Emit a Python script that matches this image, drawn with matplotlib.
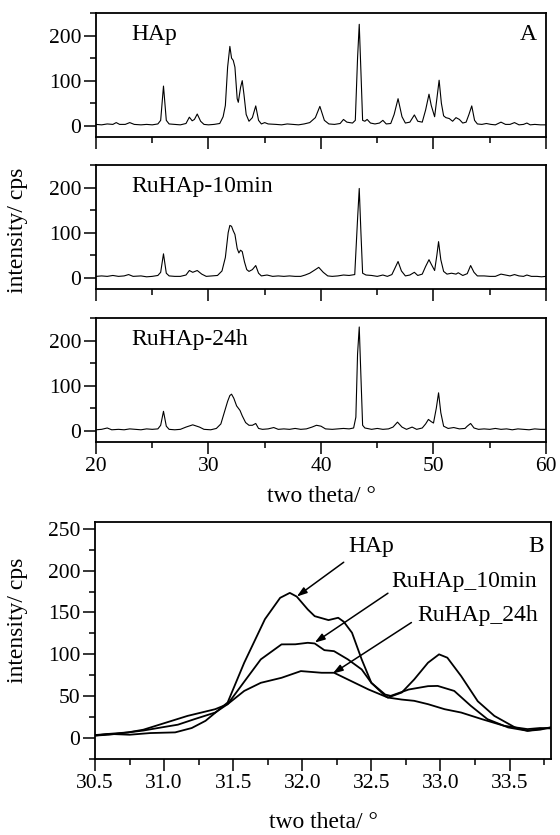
import matplotlib
matplotlib.use("Agg")
import matplotlib.pyplot as plt
from matplotlib.ticker import MultipleLocator

plt.rcParams["font.family"] = ["Liberation Serif", "DejaVu Serif"]

# ── Panel A: full XRD patterns, 20-60 deg ───────────────────────────────────
HAP_2T = [20.0, 20.5, 21.0, 21.5, 21.8, 22.1, 22.6, 23.0, 23.4, 24.0, 24.5, 25.0,
          25.5, 25.75, 26.0, 26.25, 26.5, 27.0, 27.5, 28.0, 28.3, 28.55, 28.75,
          29.0, 29.3, 29.6, 30.0, 30.5, 31.0, 31.3, 31.5, 31.7, 31.9, 32.05, 32.2,
          32.35, 32.55, 32.65, 32.85, 33.0, 33.15, 33.35, 33.6, 33.9, 34.2, 34.45,
          34.7, 35.0, 35.3, 36.0, 36.5, 37.0, 37.5, 38.0, 38.5, 39.0, 39.5, 39.9,
          40.3, 40.7, 41.2, 41.7, 42.0, 42.3, 42.8, 43.05, 43.25, 43.4, 43.55,
          43.7, 43.9, 44.1, 44.4, 44.8, 45.2, 45.5, 45.8, 46.2, 46.5, 46.85, 47.2,
          47.5, 47.9, 48.3, 48.6, 49.0, 49.3, 49.6, 49.8, 50.1, 50.3, 50.5, 50.7,
          50.9, 51.1, 51.4, 51.7, 52.0, 52.3, 52.6, 52.9, 53.15, 53.4, 53.65, 53.9,
          54.3, 54.7, 55.1, 55.5, 56.0, 56.4, 56.8, 57.2, 57.6, 58.0, 58.3, 58.6,
          59.0, 59.5, 60.0]
HAP_CPS = [3, 2, 4, 3, 7, 3, 3, 7, 3, 2, 3, 2,
           4, 12, 88, 12, 4, 3, 2, 5, 19, 11, 14,
           26, 10, 3, 2, 3, 5, 20, 45, 130, 176, 150, 145,
           130, 60, 52, 85, 100, 70, 25, 10, 18, 44, 12,
           4, 7, 4, 3, 2, 4, 3, 2, 4, 7, 18, 43,
           12, 4, 3, 5, 14, 8, 6, 12, 150, 225, 120,
           12, 10, 14, 6, 4, 6, 12, 4, 5, 25, 60, 20,
           6, 8, 24, 10, 8, 35, 70, 45, 20, 60, 101, 50,
           22, 18, 16, 10, 18, 14, 6, 8, 25, 44, 12, 4,
           3, 5, 3, 2, 8, 3, 3, 7, 2, 3, 6, 2,
           3, 2, 2]

RU10_2T = [20.0, 20.5, 21.0, 21.5, 22.0, 22.5, 22.9, 23.3, 24.0, 24.5, 25.0, 25.5,
           25.75, 26.0, 26.25, 26.5, 27.0, 27.5, 28.0, 28.3, 28.6, 29.0, 29.4,
           29.8, 30.3, 30.8, 31.2, 31.5, 31.75, 31.9, 32.05, 32.2, 32.35, 32.55,
           32.7, 32.85, 33.0, 33.2, 33.4, 33.6, 33.9, 34.2, 34.45, 34.7, 35.2,
           35.7, 36.2, 36.7, 37.2, 37.7, 38.2, 38.6, 39.0, 39.5, 39.8, 40.2, 40.6,
           41.0, 41.5, 42.0, 42.5, 43.0, 43.25, 43.4, 43.55, 43.7, 44.0, 44.5,
           45.0, 45.5, 45.9, 46.3, 46.55, 46.85, 47.15, 47.5, 47.9, 48.3, 48.6,
           49.0, 49.3, 49.6, 49.8, 50.1, 50.3, 50.45, 50.65, 50.9, 51.2, 51.6,
           52.0, 52.2, 52.6, 53.0, 53.3, 53.6, 53.9, 54.5, 55.0, 55.5, 56.0, 56.4,
           56.8, 57.2, 57.6, 58.0, 58.3, 58.7, 59.2, 59.6, 60.0]
RU10_CPS = [3, 4, 3, 5, 3, 4, 7, 3, 4, 2, 3, 5,
            12, 53, 10, 4, 3, 3, 6, 16, 12, 16, 8,
            3, 4, 5, 15, 45, 100, 116, 114, 104, 96, 65,
            55, 61, 58, 35, 18, 14, 18, 27, 10, 4, 6,
            3, 4, 3, 4, 3, 3, 6, 10, 18, 23, 12, 4,
            3, 4, 6, 5, 7, 130, 198, 100, 10, 6, 5,
            3, 6, 3, 7, 20, 36, 15, 4, 6, 12, 5,
            8, 25, 40, 30, 16, 50, 80, 40, 14, 8, 10,
            8, 11, 5, 9, 27, 12, 4, 4, 3, 3, 8, 6,
            4, 7, 4, 3, 6, 3, 3, 2, 3]

RU24_2T = [20.0, 20.5, 21.0, 21.4, 22.0, 22.5, 23.0, 23.5, 24.0, 24.5, 25.0, 25.5,
           25.75, 26.0, 26.25, 26.5, 27.0, 27.5, 28.0, 28.6, 29.2, 29.6, 30.2,
           30.7, 31.1, 31.4, 31.7, 31.9, 32.05, 32.25, 32.5, 32.8, 33.0, 33.3,
           33.6, 33.9, 34.2, 34.45, 34.8, 35.3, 35.8, 36.2, 36.7, 37.2, 37.7,
           38.2, 38.7, 39.2, 39.6, 40.0, 40.4, 41.0, 41.5, 42.0, 42.5, 42.9, 43.1,
           43.25, 43.4, 43.55, 43.7, 43.9, 44.5, 45.0, 45.5, 46.0, 46.4, 46.8,
           47.2, 47.6, 48.1, 48.5, 49.0, 49.3, 49.55, 49.8, 50.0, 50.25, 50.45,
           50.65, 50.9, 51.3, 51.8, 52.3, 52.8, 53.0, 53.3, 53.6, 54.0, 54.5,
           55.0, 55.5, 56.0, 56.5, 57.0, 57.5, 58.0, 58.5, 59.0, 59.5, 60.0]
RU24_CPS = [2, 3, 6, 2, 3, 2, 4, 3, 2, 4, 3, 4,
            12, 43, 10, 3, 2, 3, 8, 13, 8, 3, 2,
            5, 15, 40, 65, 78, 81, 72, 55, 45, 33, 18,
            12, 12, 16, 5, 3, 4, 7, 3, 4, 3, 5,
            3, 4, 8, 12, 10, 4, 3, 4, 5, 4, 6, 30,
            170, 230, 120, 12, 6, 3, 5, 3, 4, 8, 19,
            8, 3, 8, 3, 6, 15, 25, 20, 17, 50, 84,
            40, 10, 5, 7, 4, 5, 10, 16, 6, 3, 4,
            3, 5, 3, 4, 2, 4, 3, 2, 4, 3, 3]

A_SERIES = [("HAp", HAP_2T, HAP_CPS),
            ("RuHAp-10min", RU10_2T, RU10_CPS),
            ("RuHAp-24h", RU24_2T, RU24_CPS)]

# ── Panel B: zoom on the 31-33 deg region ───────────────────────────────────
B_HAP_2T = [30.5, 30.6, 30.75, 30.9, 31.08, 31.2, 31.3, 31.46, 31.58, 31.73,
            31.84, 31.91, 31.96, 32.04, 32.09, 32.19, 32.26, 32.3, 32.36, 32.43,
            32.5, 32.6, 32.62, 32.72, 32.81, 32.91, 32.99, 33.05, 33.15, 33.27,
            33.39, 33.54, 33.63, 33.72, 33.8]
B_HAP_CPS = [3.6, 5, 4, 6, 6.8, 12, 20.6, 42.5, 90, 142,
             167.5, 173.4, 169, 153.6, 145.6, 140.9, 143.7, 139, 125.8, 94,
             66, 50.4, 48.4, 54.4, 70, 90, 100, 96, 74, 44,
             26.5, 12.7, 8.7, 11, 12.7]

B_RU10_2T = [30.5, 30.6, 30.74, 30.85, 30.98, 31.1, 31.22, 31.37, 31.46, 31.61,
             31.7, 31.85, 31.95, 32.04, 32.09, 32.16, 32.23, 32.33, 32.43, 32.5,
             32.6, 32.64, 32.77, 32.91, 32.98, 33.1, 33.22, 33.34, 33.49, 33.63,
             33.72, 33.8]
B_RU10_CPS = [3, 5, 6.8, 9, 12.7, 16, 22.6, 30.5, 40.5, 74,
              94, 111.9, 112, 113.8, 113, 105, 103.8, 94, 82, 66,
              52, 50.4, 58, 62, 62.3, 56.3, 38.5, 22.6, 12.7, 8.7,
              10, 12.7]

B_RU24_2T = [30.5, 30.6, 30.74, 30.85, 30.98, 31.17, 31.37, 31.46, 31.58, 31.7,
             31.85, 31.99, 32.14, 32.23, 32.33, 32.48, 32.62, 32.72, 32.81, 32.91,
             33.03, 33.15, 33.3, 33.46, 33.63, 33.72, 33.8]
B_RU24_CPS = [3, 4, 6.8, 10, 16.7, 26.5, 34.5, 40.5, 56.3, 66,
              72, 80, 78, 78, 70, 58, 48.4, 46, 44.5, 40.5,
              34.5, 30.5, 22.6, 14.7, 10.7, 12, 11.5]

# label text, text anchor (x, y), arrow tip (x, y)
B_LABELS = ["HAp", "RuHAp_10min", "RuHAp_24h"]
B_LABEL_XY = [(32.5, 229), (33.17, 187), (33.27, 146)]
B_ARROW_TIP = [(31.96, 169), (32.09, 114), (32.22, 77)]
B_ARROW_TAIL = [(32.3, 210), (32.62, 173), (32.79, 138)]

TICK_FS = 15.5
LABEL_FS = 17


def style_axes(ax):
    for sp in ax.spines.values():
        sp.set_linewidth(1.3)
    ax.tick_params(which="both", direction="out", top=False, right=False,
                   labelsize=TICK_FS, width=1.1, pad=2)
    ax.tick_params(which="major", length=8.5)
    ax.tick_params(which="minor", length=4.5)


fig = plt.figure(figsize=(5.6, 8.35), dpi=100)

a_tops = [0.9844, 0.8024, 0.6192]
for i, (name, tt, cps) in enumerate(A_SERIES):
    ax = fig.add_axes([0.1714, a_tops[i] - 0.1485, 0.8036, 0.1485])
    ax.plot(tt, cps, color="black", lw=0.8)
    ax.set_xlim(20, 60)
    ax.set_ylim(-25, 250)
    ax.xaxis.set_major_locator(MultipleLocator(10))
    ax.xaxis.set_minor_locator(MultipleLocator(5))
    ax.yaxis.set_major_locator(MultipleLocator(100))
    ax.yaxis.set_minor_locator(MultipleLocator(50))
    style_axes(ax)
    if i < 2:
        ax.tick_params(labelbottom=False)
    ax.text(23.1, 203, name, fontsize=LABEL_FS, va="center", ha="left")
    if i == 0:
        ax.text(59.2, 203, "A", fontsize=LABEL_FS, va="center", ha="right")

fig.text(321 / 560, 1 - 497 / 835, "two theta/ °", fontsize=LABEL_FS,
         ha="center", va="center")
fig.text(18 / 560, 1 - 230 / 835, "intensity/ cps", fontsize=LABEL_FS,
         rotation=90, ha="center", va="center")

axb = fig.add_axes([0.1696, 0.0910, 0.8143, 0.2838])
for tt, cps in [(B_HAP_2T, B_HAP_CPS), (B_RU10_2T, B_RU10_CPS),
                (B_RU24_2T, B_RU24_CPS)]:
    axb.plot(tt, cps, color="black", lw=1.3)
axb.set_xlim(30.5, 33.8)
axb.set_ylim(-25, 258)
axb.xaxis.set_major_locator(MultipleLocator(0.5))
axb.xaxis.set_minor_locator(MultipleLocator(0.25))
axb.yaxis.set_major_locator(MultipleLocator(50))
axb.yaxis.set_minor_locator(MultipleLocator(25))
axb.xaxis.set_major_formatter(lambda v, p: f"{v:.1f}")
style_axes(axb)

for lab, xy, tip, tail in zip(B_LABELS, B_LABEL_XY, B_ARROW_TIP, B_ARROW_TAIL):
    axb.text(xy[0], xy[1], lab, fontsize=LABEL_FS, ha="center", va="center")
    axb.annotate("", xy=tip, xytext=tail,
                 arrowprops=dict(arrowstyle="-|>,head_length=0.6,head_width=0.2",
                                 color="black", lw=1.1, shrinkA=0, shrinkB=0))
axb.text(33.75, 229, "B", fontsize=LABEL_FS, ha="right", va="center")

fig.text(323 / 560, 1 - 822 / 835, "two theta/ °", fontsize=LABEL_FS,
         ha="center", va="center")
fig.text(18 / 560, 1 - 620 / 835, "intensity/ cps", fontsize=LABEL_FS,
         rotation=90, ha="center", va="center")

fig.savefig("out.png", dpi=100)
